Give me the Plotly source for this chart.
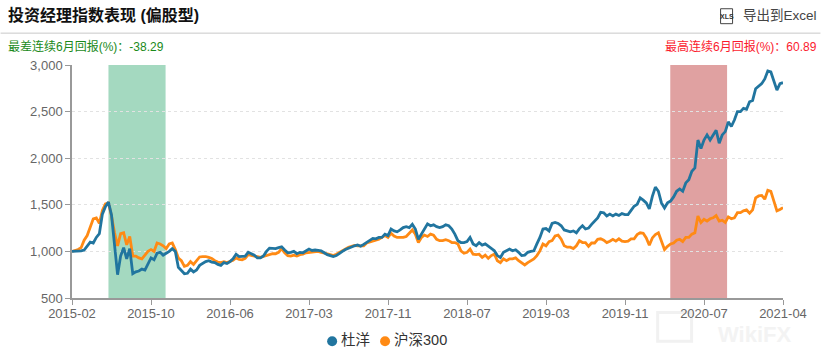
import plotly.graph_objects as go

tick_labels = ["2015-02","2015-10","2016-06","2017-03","2017-11","2018-07","2019-03","2019-11","2020-07","2021-04"]
tick_step = 26

du_yang = [1000,1000,1005,1005,1015,1060,1100,1090,1150,1190,1400,1480,1530,1390,1060,750,950,1040,920,1030,
760,780,790,810,800,860,930,910,980,990,960,980,1000,1030,1000,830,800,760,765,810,
780,800,850,870,890,900,885,880,860,850,880,870,890,920,970,945,945,950,990,975,
960,930,930,950,1000,1035,1035,1030,1040,1050,1015,985,990,1000,975,990,985,1010,1025,1010,
1015,1010,1005,985,965,955,945,955,980,1000,1020,1035,1050,1060,1070,1055,1075,1100,1120,1140,
1135,1150,1150,1185,1170,1240,1220,1210,1230,1255,1265,1255,1290,1240,1130,1185,1255,1295,1275,1285,
1265,1255,1265,1285,1275,1240,1185,1115,1095,1095,1105,1150,1080,1060,1095,1068,1080,1055,1025,1007,
955,935,990,1007,1025,1007,1018,990,955,960,990,1000,1007,1080,1150,1240,1245,1220,1300,1310,
1300,1275,1230,1220,1210,1220,1200,1245,1275,1240,1250,1290,1325,1360,1420,1415,1380,1400,1380,1400,
1385,1405,1395,1395,1440,1485,1505,1575,1550,1520,1455,1590,1690,1645,1520,1465,1522,1540,1585,1645,
1670,1645,1735,1770,1860,1895,2195,2105,2195,2250,2195,2250,2300,2160,2250,2285,2390,2340,2410,2500,
2500,2535,2525,2605,2620,2745,2770,2800,2850,2935,2925,2835,2730,2800,2810]

hs300 = [1000,1010,1020,1040,1120,1170,1250,1350,1360,1300,1440,1510,1520,1380,1200,1060,1190,1200,1070,1160,
950,950,930,920,960,1000,1020,1000,1090,1080,1060,1030,1080,1090,1020,930,900,840,850,890,
860,900,940,945,945,935,925,900,885,880,890,880,890,905,930,915,910,925,965,955,
950,945,935,945,955,960,975,975,990,1030,985,955,950,960,950,965,970,985,990,995,
995,1000,990,985,975,965,955,970,990,1010,1025,1045,1055,1065,1060,1060,1060,1090,1100,1105,
1120,1130,1150,1170,1150,1195,1165,1150,1150,1150,1160,1195,1230,1185,1095,1150,1175,1160,1185,1175,
1130,1115,1115,1125,1115,1095,1095,1080,1005,980,990,1025,970,965,970,935,960,925,955,970,
900,880,920,900,920,920,930,900,875,855,880,900,920,955,1005,1080,1060,1105,1115,1165,
1175,1130,1060,1045,1045,1030,1060,1115,1095,1095,1055,1090,1090,1130,1135,1120,1095,1110,1130,1110,
1135,1110,1105,1110,1135,1135,1180,1200,1195,1145,1065,1145,1180,1200,1110,1020,1055,1080,1090,1120,
1130,1105,1150,1150,1185,1200,1380,1310,1345,1325,1350,1360,1385,1325,1335,1310,1370,1350,1360,1415,
1415,1435,1445,1410,1445,1575,1595,1600,1560,1655,1645,1540,1435,1450,1470]

worst_window = [12.0, 30.8]
best_window = [196.9, 215.6]
series_names = ["杜洋", "沪深300"]
BLUE, ORANGE = "#21759f", "#ff8a14"

W, H = 821, 359
L, R, T, B = 71.5, 783.5, 64.5, 298.5
cjk = "Liberation Sans, Noto Sans CJK SC"

def px(x): return (x - L) / (R - L)
def py(y): return (B - y) / (B - T)

idx = list(range(len(du_yang)))
fig = go.Figure()
fig.add_trace(go.Scatter(x=idx, y=hs300, name=series_names[1], mode="lines", line=dict(color=ORANGE, width=2.8), showlegend=False))
fig.add_trace(go.Scatter(x=idx, y=du_yang, name=series_names[0], mode="lines", line=dict(color=BLUE, width=2.8), showlegend=False))

fig.add_vrect(x0=worst_window[0], x1=worst_window[1], fillcolor="#a4d9c0", line_width=0, layer="below")
fig.add_vrect(x0=best_window[0], x1=best_window[1], fillcolor="#e0a1a1", line_width=0, layer="below")

def pshape(kind, x0, y0, x1, y1, **kw):
    fig.add_shape(type=kind, xref="paper", yref="paper", x0=px(x0), x1=px(x1), y0=py(y0), y1=py(y1), **kw)

pshape("line", 0, 32.5, W, 32.5, line=dict(color="#c8c8c8", width=1))
pshape("rect", 721, 8, 733, 23, line=dict(color="#444", width=1), fillcolor="white")
# watermark logo
pshape("rect", 658, 313, 692, 342, line=dict(color="#f1f1f1", width=3), fillcolor="rgba(0,0,0,0)", layer="below")
# legend dots
pshape("circle", 327, 337, 337, 347, line_width=0, fillcolor=BLUE)
pshape("circle", 380, 337, 390, 347, line_width=0, fillcolor=ORANGE)

def note(x, y, text, size, color, anchor="left", bold=False):
    fig.add_annotation(xref="paper", yref="paper", x=px(x), y=py(y), text=f"<b>{text}</b>" if bold else text,
                       showarrow=False, xanchor=anchor, yanchor="middle", borderpad=0, borderwidth=0,
                       font=dict(size=size, color=color, family=cjk))

note(7, 14, "投资经理指数表现 (偏股型)", 16, "#111111", bold=True)
note(818, 14.5, "导出到Excel", 13.5, "#444444", "right")
note(727, 16, "XLS", 7, "#333333", "center", bold=True)
note(7, 46, "最差连续6月回报(%)：-38.29", 12, "#1a8a1a")
note(818, 46, "最高连续6月回报(%)：60.89", 12, "#fb1a2e", "right")
note(755, 335, "WikiFX", 22, "#f3f3f3", "center", bold=True)
note(341, 341, series_names[0], 14.5, "#333333")
note(394, 341, series_names[1], 14.5, "#333333")

fig.update_layout(
    width=W, height=H, margin=dict(l=L, r=W - R, t=T, b=H - B, pad=0), autosize=False,
    plot_bgcolor="white", paper_bgcolor="white", showlegend=False,
    font=dict(family=cjk, size=12, color="#666666"),
    xaxis=dict(range=[0, 234], tickmode="array", tickvals=[i * tick_step for i in range(len(tick_labels))],
               ticktext=tick_labels, showgrid=False, zeroline=False, showline=True, linecolor="#999999",
               linewidth=1.5, ticks="outside", ticklen=5, tickcolor="#999999", tickfont=dict(size=13, color="#666666"),
               ticklabelstandoff=-2),
    yaxis=dict(range=[500, 3000], tickmode="array", tickvals=[500, 1000, 1500, 2000, 2500, 3000],
               tickformat=",d", showgrid=True, gridcolor="#e2e2e2", griddash="dot", gridwidth=1,
               zeroline=False, showline=True, linecolor="#999999", linewidth=1.5, ticks="outside",
               ticklen=5, tickcolor="#999999", tickfont=dict(size=13, color="#666666")),
)
fig.write_html("out.html", config={"displayModeBar": False},
               post_script="document.body.style.margin='0';document.body.style.padding='0';document.documentElement.style.overflow='hidden';")
